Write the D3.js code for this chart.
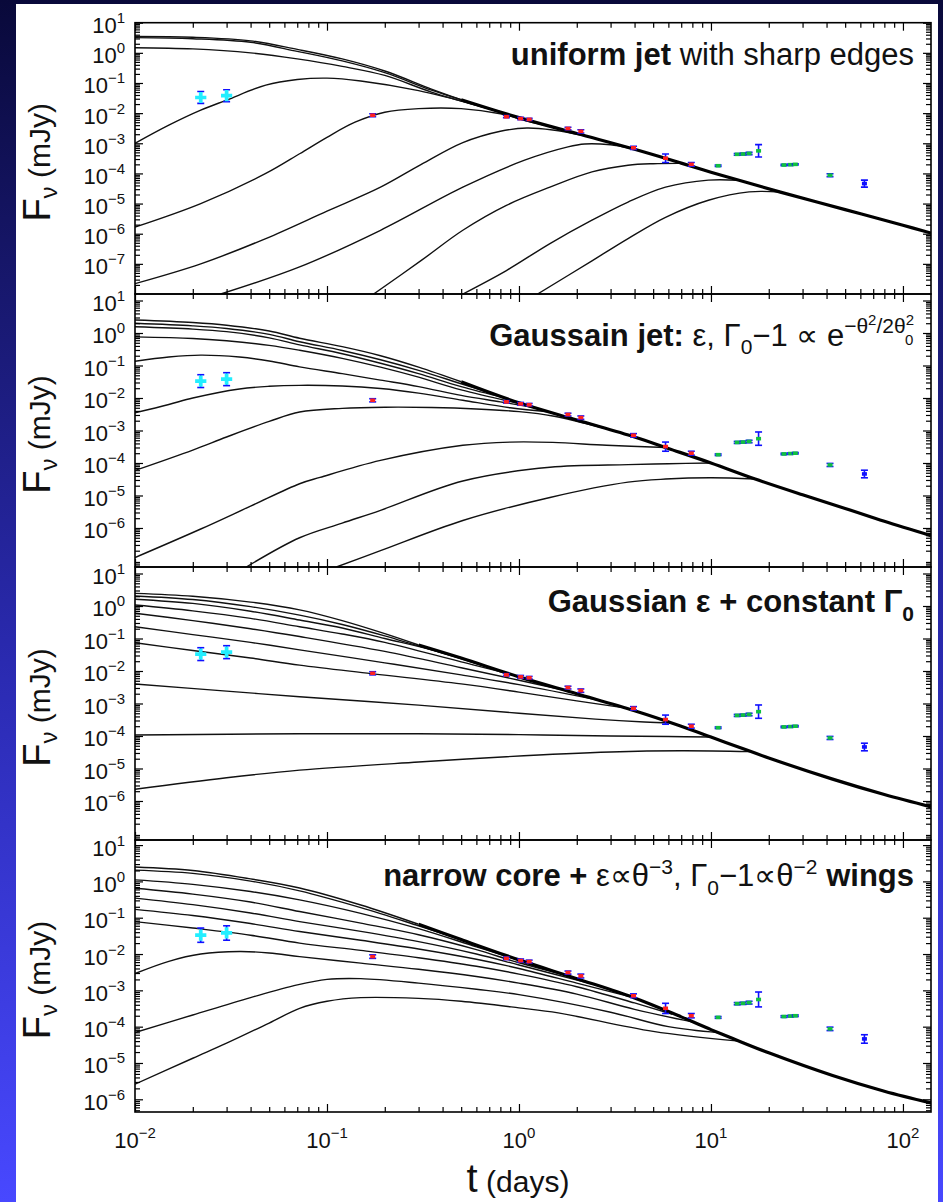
<!DOCTYPE html>
<html>
<head>
<meta charset="utf-8">
<title>Structured jet light curves</title>
<script src="https://d3js.org/d3.v7.min.js"></script>
<style>
body { margin: 0; background: #0a0a36; }
svg { display: block; font-family: 'Liberation Sans', Arial, sans-serif; }
</style>
</head>
<body>
<svg width="943" height="1202"></svg>
<script>
// ---- observed afterglow points (t in days, flux in mJy) ----
var obsT  = [0.022, 0.030, 0.173, 0.86, 1.02, 1.13, 1.8, 2.1, 3.95, 5.8, 7.9, 10.9, 13.7, 14.7, 15.8, 17.7, 24, 26, 27.5, 41.7, 63];
var obsF  = [0.033, 0.038, 8.5e-3, 7.6e-3, 6.6e-3, 6.2e-3, 3.1e-3, 2.5e-3, 7.1e-4, 3.2e-4, 2.0e-4, 1.8e-4, 4.3e-4, 4.4e-4, 4.6e-4, 5.6e-4, 1.9e-4, 1.95e-4, 2.0e-4, 8.7e-5, 4.6e-5];
var obsLo = [0.021, 0.024, 7.6e-3, 7.0e-3, 6.0e-3, 5.7e-3, 2.8e-3, 2.2e-3, 6.3e-4, 2.3e-4, 1.75e-4, 1.7e-4, 4.0e-4, 4.1e-4, 4.2e-4, 3.5e-4, 1.8e-4, 1.85e-4, 1.9e-4, 7.8e-5, 3.5e-5];
var obsHi = [0.052, 0.060, 9.5e-3, 8.3e-3, 7.3e-3, 6.8e-3, 3.4e-3, 2.8e-3, 8.0e-4, 4.4e-4, 2.3e-4, 1.9e-4, 4.6e-4, 4.7e-4, 5.0e-4, 9.0e-4, 2.0e-4, 2.05e-4, 2.1e-4, 9.7e-5, 6.0e-5];
var obsBand = ["c","c","r","r","r","r","r","r","r","r","r","g","g","g","g","g","g","g","g","g","b"];

// ---- tick labels (powers of ten) ----
var xTickExps = [-2, -1, 0, 1, 2];
var uniTicks = [1, 0, -1, -2, -3, -4, -5, -6, -7];
var gaussTicks = [1, 0, -1, -2, -3, -4, -5, -6];
var constTicks = [1, 0, -1, -2, -3, -4, -5, -6];
var wingTicks = [1, 0, -1, -2, -3, -4, -5, -6];

// ---- panel 1: uniform jet ----
var uniEnv = [[0.5,0.028],[1,7.1e-3],[2,2.1e-3],[4,6.3e-4],[7,2.2e-4],[10,1.1e-4],[14,5.9e-5],[23,2.4e-5],[50,6.3e-6],[100,1.9e-6],[140,1.05e-6]];
var uniCurves = [
  [[0.01,3.5],[0.02,3.3],[0.04,2.5],[0.07,1.3],[0.12,0.63],[0.2,0.25],[0.35,0.063],[0.5,0.028]],
  [[0.01,3.2],[0.02,2.95],[0.04,2.24],[0.07,1.12],[0.12,0.54],[0.2,0.22],[0.35,0.058],[0.6,0.0195]],
  [[0.01,1.48],[0.02,1.35],[0.04,1.0],[0.07,0.63],[0.12,0.355],[0.2,0.178],[0.35,0.05],[0.6,0.018],[0.8,0.011]],
  [[0.01,1e-3],[0.015,4.0e-3],[0.022,0.0126],[0.03,0.027],[0.048,0.085],[0.07,0.13],[0.1,0.145],[0.15,0.117],[0.3,0.056],[0.6,0.0186],[0.9,8.7e-3]],
  [[0.01,1.66e-6],[0.022,1e-5],[0.048,1e-4],[0.072,4.5e-4],[0.1,1.58e-3],[0.14,5.0e-3],[0.2,0.0107],[0.3,0.0141],[0.5,0.0141],[0.8,9.5e-3],[1.1,5.5e-3],[1.5,3.5e-3]],
  [[0.01,2.2e-8],[0.022,1e-7],[0.048,6.9e-7],[0.1,5.6e-6],[0.19,3.5e-5],[0.31,2.0e-4],[0.51,1.05e-3],[0.8,2.5e-3],[1.1,3.2e-3],[1.5,2.75e-3],[2.2,1.78e-3]],
  [[0.028,1e-8],[0.072,7.9e-8],[0.19,1.3e-6],[0.51,3.5e-5],[1.07,2.75e-4],[1.8,7.6e-4],[2.2,9.5e-4],[3.0,8.9e-4],[3.7,7.1e-4]],
  [[0.175,1e-8],[0.31,1.3e-7],[0.51,1.3e-6],[0.86,8.7e-6],[1.45,3.5e-5],[2.4,1.12e-4],[3.7,1.86e-4],[5,2.1e-4],[7,2.15e-4]],
  [[0.51,1e-8],[0.86,6.0e-8],[1.45,4.7e-7],[2.4,2.8e-6],[3.7,1.12e-5],[5.8,3.5e-5],[9.7,6.0e-5],[14,5.9e-5]],
  [[1.25,1e-8],[2.4,1.26e-7],[3.7,6.9e-7],[5.8,3.5e-6],[9.7,1.29e-5],[15.8,2.45e-5],[23,2.4e-5]]
];

// ---- panel 2: Gaussian jet ----
var gaussEnv = [[0.5,0.0316],[1,7.1e-3],[2,2.1e-3],[4,6.3e-4],[6,2.8e-4],[10,1e-4],[17,3.2e-5],[30,1.05e-5],[50,4.0e-6],[80,1.6e-6],[140,5.8e-7]];
var gaussCurves = [
  [[0.01,2.5],[0.02,2.1],[0.03,1.74],[0.05,1.15],[0.072,0.69],[0.12,0.38],[0.19,0.2],[0.3,0.089],[0.5,0.0316]],
  [[0.01,2.0],[0.02,1.66],[0.03,1.38],[0.05,0.91],[0.072,0.54],[0.12,0.29],[0.19,0.15],[0.3,0.071],[0.5,0.0275],[0.7,0.0148]],
  [[0.01,1.55],[0.02,1.32],[0.03,1.1],[0.05,0.71],[0.072,0.43],[0.12,0.23],[0.19,0.117],[0.3,0.056],[0.5,0.0224],[0.85,0.01]],
  [[0.01,0.76],[0.02,0.68],[0.03,0.575],[0.05,0.417],[0.072,0.295],[0.12,0.166],[0.19,0.089],[0.3,0.0437],[0.5,0.0178],[1.1,6.0e-3]],
  [[0.01,0.135],[0.015,0.182],[0.022,0.209],[0.035,0.182],[0.05,0.138],[0.072,0.091],[0.12,0.056],[0.19,0.0355],[0.3,0.0224],[0.5,0.012],[0.8,7.6e-3],[1.2,5.1e-3]],
  [[0.01,3.5e-3],[0.015,6.3e-3],[0.02,0.01],[0.035,0.019],[0.05,0.0229],[0.072,0.0245],[0.12,0.0234],[0.19,0.0195],[0.3,0.0141],[0.51,8.5e-3],[0.9,5.0e-3],[1.45,3.7e-3]],
  [[0.01,5.9e-5],[0.02,2.5e-4],[0.03,6.3e-4],[0.05,1.9e-3],[0.072,3.7e-3],[0.12,4.8e-3],[0.2,5.2e-3],[0.35,5.1e-3],[0.6,4.6e-3],[1,3.8e-3],[1.5,2.8e-3],[2.8,1.17e-3]],
  [[0.01,1.23e-7],[0.022,9.3e-7],[0.04,4.7e-6],[0.072,2.3e-5],[0.092,3.6e-5],[0.19,1.2e-4],[0.51,3.5e-4],[0.9,4.4e-4],[1.5,4.3e-4],[2.86,3.5e-4],[5.8,3.0e-4]],
  [[0.038,6.3e-8],[0.072,5.0e-7],[0.12,1.41e-6],[0.19,3.5e-6],[0.51,2.8e-5],[1.45,7.4e-5],[3.7,8.9e-5],[6,9.5e-5],[10,1e-4]],
  [[0.112,6.3e-8],[0.19,2.0e-7],[0.51,1.7e-6],[1.45,8.7e-6],[3.7,2.57e-5],[5.8,3.2e-5],[10,3.5e-5],[17,3.2e-5]]
];

// ---- panel 3: Gaussian energy + constant Lorentz factor ----
var constEnv = [[0.3,0.063],[0.5,0.025],[1,6.6e-3],[2,2.0e-3],[4,6.0e-4],[7,2.0e-4],[10,9.3e-5],[14,4.5e-5],[20,2.1e-5],[43,4.7e-6],[80,1.58e-6],[140,6.6e-7]];
var constCurves = [
  [[0.01,2.45],[0.02,2.0],[0.04,1.32],[0.072,0.76],[0.12,0.355],[0.2,0.141],[0.3,0.063]],
  [[0.01,2.04],[0.02,1.58],[0.04,0.955],[0.072,0.525],[0.12,0.27],[0.2,0.12],[0.3,0.059],[0.5,0.025]],
  [[0.01,1.62],[0.02,1.2],[0.04,0.69],[0.072,0.37],[0.12,0.21],[0.2,0.1],[0.35,0.045],[0.55,0.02],[0.8,0.01]],
  [[0.01,1.07],[0.02,0.71],[0.04,0.417],[0.072,0.23],[0.12,0.138],[0.2,0.076],[0.5,0.019],[0.8,9.5e-3],[1.2,4.8e-3]],
  [[0.01,0.6],[0.02,0.355],[0.04,0.2],[0.072,0.115],[0.2,0.04],[0.5,0.0126],[1,5.2e-3],[1.8,2.4e-3]],
  [[0.01,0.23],[0.02,0.132],[0.04,0.076],[0.072,0.0447],[0.2,0.0178],[0.5,7.6e-3],[1,3.8e-3],[2.6,1.26e-3]],
  [[0.01,0.074],[0.02,0.0427],[0.04,0.0251],[0.072,0.0151],[0.17,8.3e-3],[0.5,4.0e-3],[1,2.24e-3],[2,1.2e-3],[3.4,7.6e-4]],
  [[0.01,4.0e-3],[0.03,2.4e-3],[0.072,1.62e-3],[0.3,8.9e-4],[1,5.0e-4],[2.5,3.3e-4],[4.5,2.7e-4],[6.2,2.5e-4]],
  [[0.01,1.07e-4],[0.072,1.17e-4],[0.3,1.17e-4],[1,1.1e-4],[3,1.0e-4],[6,9.6e-5],[10,9.3e-5]],
  [[0.01,2.3e-6],[0.03,5.2e-6],[0.072,8.9e-6],[0.3,1.58e-5],[0.86,2.3e-5],[3,3.2e-5],[7,3.5e-5],[16,3.3e-5]]
];

// ---- panel 4: narrow core + power-law wings ----
var wingEnv = [[0.3,0.066],[0.5,0.025],[1,6.9e-3],[2,2.1e-3],[4,6.2e-4],[7,1.86e-4],[10,8.3e-5],[13,4.7e-5],[20,1.9e-5],[43,4.5e-6],[80,1.66e-6],[140,7.9e-7]];
var wingCurves = [
  [[0.01,2.5],[0.02,2.0],[0.04,1.17],[0.072,0.66],[0.15,0.224],[0.3,0.066]],
  [[0.01,2.04],[0.02,1.66],[0.04,1.02],[0.072,0.55],[0.15,0.19],[0.3,0.06],[0.5,0.025]],
  [[0.01,1.1],[0.02,0.83],[0.04,0.525],[0.072,0.31],[0.15,0.132],[0.3,0.05],[0.6,0.0158],[1,6.8e-3]],
  [[0.01,0.646],[0.02,0.447],[0.04,0.27],[0.072,0.148],[0.15,0.071],[0.3,0.034],[0.6,0.0132],[1,5.75e-3],[1.7,2.75e-3]],
  [[0.01,0.347],[0.02,0.229],[0.04,0.135],[0.072,0.078],[0.15,0.042],[0.3,0.0219],[0.6,0.01],[1,5.0e-3],[2.5,1.41e-3]],
  [[0.01,0.17],[0.02,0.115],[0.04,0.069],[0.072,0.0417],[0.15,0.024],[0.3,0.0138],[0.6,7.2e-3],[1,4.0e-3],[2,1.58e-3],[4,6.2e-4]],
  [[0.01,0.078],[0.02,0.052],[0.04,0.033],[0.072,0.02],[0.15,0.0126],[0.3,7.9e-3],[0.6,4.6e-3],[1,2.8e-3],[2,1.26e-3],[4,4.5e-4],[6.3,2.2e-4]],
  [[0.01,2.9e-3],[0.015,6.3e-3],[0.022,0.01],[0.035,0.0117],[0.05,0.0107],[0.072,8.5e-3],[0.15,5.6e-3],[0.3,3.8e-3],[0.6,2.4e-3],[1,1.58e-3],[2,7.9e-4],[4,3.0e-4],[8,1.35e-4]],
  [[0.01,6.9e-5],[0.02,2.1e-4],[0.04,6.3e-4],[0.07,1.41e-3],[0.1,2.0e-3],[0.15,2.1e-3],[0.3,1.58e-3],[0.6,1.07e-3],[1,7.6e-4],[3,2.5e-4],[6,1.0e-4],[11,6.8e-5]],
  [[0.01,2.6e-6],[0.02,1.35e-5],[0.03,3.5e-5],[0.05,1.26e-4],[0.072,3.2e-4],[0.1,5.0e-4],[0.15,6.3e-4],[0.3,6.0e-4],[0.5,5.0e-4],[1,3.3e-4],[1.6,2.4e-4],[5,7.4e-5],[14,4.0e-5]]
];

// ---- panel titles: [text, weight, size, dy, dx] ----
var uniTitle = [["uniform jet","bold",31,0,0],[" with sharp edges","normal",31,0,0]];
var gaussTitle = [["Gaussain jet:","bold",31,0,0],[" \u03b5, \u0393","normal",31,0,0],["0","normal",21,8,0],["\u22121 \u221d e","normal",31,-8,0],
  ["\u2212\u03b8","normal",21,-13,0],["2","normal",15,-8,0],["/2\u03b8","normal",21,8,0],["2","normal",15,-8,0],["0","normal",15,20,-9]];
var constTitle = [["Gaussian \u03b5 + constant \u0393","bold",31,0,0],["0","bold",21,9,0]];
var wingTitle = [["narrow core +","bold",31,0,0],[" \u03b5\u221d\u03b8","normal",31,0,0],["\u22123","normal",21,-12,0],[", \u0393","normal",31,12,0],
  ["0","normal",21,9,0],["\u22121\u221d\u03b8","normal",31,-9,0],["\u22122","normal",21,-12,0],[" wings","bold",31,12,0]];

var W = 943, H = 1202;
var svg = d3.select("svg");

// slide background
var defs = svg.append("defs");
var grad = defs.append("linearGradient").attr("id", "bg")
  .attr("x1", 0).attr("y1", 0).attr("x2", 0).attr("y2", 1);
grad.append("stop").attr("offset", "0%").attr("stop-color", "#09093a");
grad.append("stop").attr("offset", "55%").attr("stop-color", "#2a2ab0");
grad.append("stop").attr("offset", "100%").attr("stop-color", "#4848ff");
svg.append("rect").attr("width", W).attr("height", H).attr("fill", "url(#bg)");
svg.append("rect").attr("x", 16).attr("y", 4).attr("width", 922).attr("height", H - 4).attr("fill", "#fff");

var left = 135, right = 931;
var x = d3.scaleLog().domain([0.01, 140]).range([left, right]);

var panels = [
  {top: 22.7, bottom: 294, dom: [1e-8, 10], ticks: uniTicks, env: uniEnv, curves: uniCurves, title: uniTitle, ty: 65},
  {top: 294, bottom: 567, dom: [6.3e-8, 15.85], ticks: gaussTicks, env: gaussEnv, curves: gaussCurves, title: gaussTitle, ty: 346},
  {top: 567, bottom: 840, dom: [6.3e-8, 15.85], ticks: constTicks, env: constEnv, curves: constCurves, title: constTitle, ty: 612},
  {top: 840, bottom: 1112, dom: [4.47e-7, 13.8], ticks: wingTicks, env: wingEnv, curves: wingCurves, title: wingTitle, ty: 886}
];

function minorTicks(dom) {
  var out = [];
  var lo = Math.floor(Math.log10(dom[0])), hi = Math.ceil(Math.log10(dom[1]));
  for (var n = lo; n <= hi; n++) {
    for (var k = 2; k <= 9; k++) {
      var v = k * Math.pow(10, n);
      if (v > dom[0] && v < dom[1]) out.push(v);
    }
  }
  return out;
}

function powLabel(g, px, py, e, anchor) {
  var t = g.append("text").attr("x", px).attr("y", py)
    .attr("text-anchor", anchor).attr("font-size", 22).attr("fill", "#111");
  t.append("tspan").text("10");
  t.append("tspan").attr("font-size", 15).attr("dy", -10)
    .text(e < 0 ? "\u2212" + (-e) : String(e));
}

var xMajor = xTickExps.map(function(e) { return Math.pow(10, e); }).filter(function(v) { return v <= 140; });
var xMinor = minorTicks([0.01, 140]);

panels.forEach(function(p, i) {
  var y = d3.scaleLog().domain(p.dom).range([p.bottom, p.top]);
  var g = svg.append("g");

  g.append("clipPath").attr("id", "clip" + i)
    .append("rect").attr("x", left).attr("y", p.top)
    .attr("width", right - left).attr("height", p.bottom - p.top);

  var line = d3.line()
    .x(function(d) { return x(d[0]); })
    .y(function(d) { return y(d[1]); })
    .curve(d3.curveCatmullRom.alpha(0.5));

  var plot = g.append("g").attr("clip-path", "url(#clip" + i + ")");

  plot.selectAll("path.model").data(p.curves).enter().append("path")
    .attr("class", "model")
    .attr("d", line)
    .attr("fill", "none")
    .attr("stroke", "#111")
    .attr("stroke-width", 1.4);

  plot.append("path").datum(p.env)
    .attr("d", line)
    .attr("fill", "none")
    .attr("stroke", "#000")
    .attr("stroke-width", 3.2);

  // observations
  obsT.forEach(function(t, j) {
    var cx = x(t);
    var eb = plot.append("g").attr("stroke", "#1010ff").attr("stroke-width", 1.6);
    eb.append("line").attr("x1", cx).attr("x2", cx).attr("y1", y(obsLo[j])).attr("y2", y(obsHi[j]));
    eb.append("line").attr("x1", cx - 3.5).attr("x2", cx + 3.5).attr("y1", y(obsLo[j])).attr("y2", y(obsLo[j]));
    eb.append("line").attr("x1", cx - 3.5).attr("x2", cx + 3.5).attr("y1", y(obsHi[j])).attr("y2", y(obsHi[j]));
    var b = obsBand[j];
    if (b === "c") {
      plot.append("path")
        .attr("d", d3.symbol().type(d3.symbolCross).size(70)())
        .attr("transform", "translate(" + cx + "," + y(obsF[j]) + ")")
        .attr("fill", "#22eeff");
    } else {
      plot.append("rect")
        .attr("x", cx - 2.5).attr("y", y(obsF[j]) - 1.8)
        .attr("width", 5).attr("height", 3.6)
        .attr("fill", b === "r" ? "#ff2020" : (b === "g" ? "#10c040" : "#1010ff"));
    }
  });

  // ticks on four sides, pointing inward
  var axes = g.append("g").attr("stroke-width", 1.2);
  axes.append("g").attr("transform", "translate(0," + p.bottom + ")")
    .call(d3.axisBottom(x).tickValues(xMajor).tickSize(-8).tickSizeOuter(0).tickFormat(""));
  axes.append("g").attr("transform", "translate(0," + p.bottom + ")")
    .call(d3.axisBottom(x).tickValues(xMinor).tickSize(-5).tickSizeOuter(0).tickFormat(""));
  axes.append("g").attr("transform", "translate(0," + p.top + ")")
    .call(d3.axisTop(x).tickValues(xMajor).tickSize(-8).tickSizeOuter(0).tickFormat(""));
  axes.append("g").attr("transform", "translate(0," + p.top + ")")
    .call(d3.axisTop(x).tickValues(xMinor).tickSize(-5).tickSizeOuter(0).tickFormat(""));

  var yMajor = p.ticks.map(function(e) { return Math.pow(10, e); });
  var yMinor = minorTicks(p.dom);
  axes.append("g").attr("transform", "translate(" + left + ",0)")
    .call(d3.axisLeft(y).tickValues(yMajor).tickSize(-8).tickSizeOuter(0).tickFormat(""));
  axes.append("g").attr("transform", "translate(" + left + ",0)")
    .call(d3.axisLeft(y).tickValues(yMinor).tickSize(-5).tickSizeOuter(0).tickFormat(""));
  axes.append("g").attr("transform", "translate(" + right + ",0)")
    .call(d3.axisRight(y).tickValues(yMajor).tickSize(-8).tickSizeOuter(0).tickFormat(""));
  axes.append("g").attr("transform", "translate(" + right + ",0)")
    .call(d3.axisRight(y).tickValues(yMinor).tickSize(-5).tickSizeOuter(0).tickFormat(""));
  axes.selectAll("path.domain").remove();

  g.append("rect").attr("x", left).attr("y", p.top)
    .attr("width", right - left).attr("height", p.bottom - p.top)
    .attr("fill", "none").attr("stroke", "#000").attr("stroke-width", 1.6);

  // y tick labels
  p.ticks.forEach(function(e) {
    powLabel(g, 125, y(Math.pow(10, e)) + 10.5, e, "end");
  });

  // y axis title
  var yt = g.append("text")
    .attr("transform", "translate(50," + ((p.top + p.bottom) / 2 + 4) + ") rotate(-90)")
    .attr("text-anchor", "middle").attr("fill", "#111");
  yt.append("tspan").attr("font-size", 38).text("F");
  yt.append("tspan").attr("font-size", 24).attr("dy", 7).text("\u03bd");
  yt.append("tspan").attr("font-size", 30).attr("dy", -7).text(" (mJy)");

  // panel title
  var tt = g.append("text").attr("x", 914).attr("y", p.ty)
    .attr("text-anchor", "end").attr("fill", "#111");
  p.title.forEach(function(s) {
    tt.append("tspan").attr("font-weight", s[1]).attr("font-size", s[2])
      .attr("dy", s[3]).attr("dx", s[4]).text(s[0]);
  });
});

// x tick labels and title
xTickExps.forEach(function(e) {
  powLabel(svg, x(Math.pow(10, e)), 1148, e, "middle");
});
var xt = svg.append("text").attr("x", 518).attr("y", 1192)
  .attr("text-anchor", "middle").attr("fill", "#111");
xt.append("tspan").attr("font-size", 40).text("t");
xt.append("tspan").attr("font-size", 30).text(" (days)");
</script>
</body>
</html>
